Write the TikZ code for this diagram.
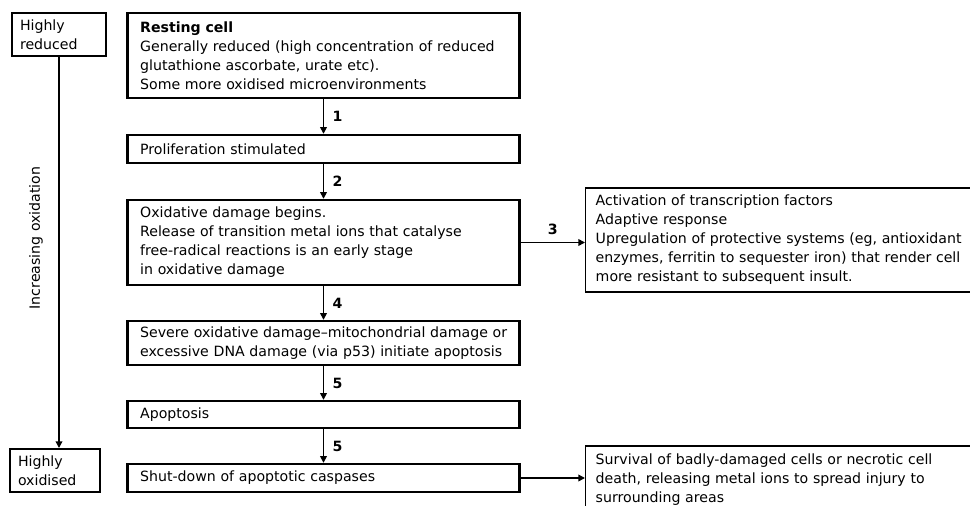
\documentclass[tikz,border=0pt]{standalone}
\usepackage{fontspec}
\setmainfont{DejaVu Sans}
\usetikzlibrary{arrows.meta}

\begin{document}
\begin{tikzpicture}[x=0.75pt, y=-0.75pt,
    every node/.style={font=\fontsize{10.6}{14.25}\selectfont},
    box/.style={draw, line width=1.8pt, align=left, text width=275pt,
        inner xsep=9.5pt, inner ysep=0pt},
    sidebox/.style={draw, line width=1.1pt, align=left, text width=290pt,
        inner xsep=7.5pt, inner ysep=0pt, anchor=west},
    statebox/.style={draw, line width=1.5pt, align=left, inner xsep=6pt,
        inner ysep=0pt, minimum height=32.25pt},
    flow/.style={line width=1.1pt, -{Triangle[length=5pt, width=5pt]}}]
    \useasboundingbox (0, 0) rectangle (970, 506);

    % main column
    \node[box, minimum height=63.75pt] (rest) at (323.5, 55.5)
        {\textbf{Resting cell}\\Generally reduced (high concentration of reduced\\glutathione ascorbate, urate etc).\\Some more oxidised microenvironments};
    \node[box, minimum height=21pt] (prolif) at (323.5, 149) {Proliferation stimulated};
    \node[box, minimum height=63.75pt] (oxid) at (323.5, 242.5)
        {Oxidative damage begins.\\Release of transition metal ions that catalyse\\free-radical reactions is an early stage\\in oxidative damage};
    \node[box, minimum height=33pt] (severe) at (323.5, 343)
        {\mbox{Severe oxidative damage--mitochondrial damage or}\\\mbox{excessive DNA damage (via p53) initiate apoptosis}};
    \node[box, minimum height=20.25pt] (apop) at (323.5, 414.5) {Apoptosis};
    \node[box, minimum height=21pt] (shut) at (323.5, 478) {Shut-down of apoptotic caspases};

    % side boxes
    \node[sidebox, minimum height=78pt] (adapt) at (585, 240)
        {Activation of transcription factors\\Adaptive response\\Upregulation of protective systems (eg, antioxidant\\enzymes, ferritin to sequester iron) that render cell\\more resistant to subsequent insult.};
    \node[sidebox, minimum height=51pt] (surv) at (585, 480)
        {Survival of badly-damaged cells or necrotic cell\\death, releasing metal ions to spread injury to\\surrounding areas};

    % oxidation scale
    \node[statebox, text width=58.5pt] (hred) at (59, 34.5) {Highly\\reduced};
    \node[statebox, text width=55.5pt] (hox) at (55, 470.5) {Highly\\oxidised};
    \draw[flow] (hred.south) -- (hred.south |- hox.north);
    \node[rotate=90] (incr) at (36, 238) {Increasing oxidation};

    % steps
    \draw[flow] (rest) -- node[right, xshift=3pt] {\textbf{1}} (prolif);
    \draw[flow] (prolif) -- node[right, xshift=3pt] {\textbf{2}} (oxid);
    \draw[flow] (oxid) -- node[right, xshift=3pt] {\textbf{4}} (severe);
    \draw[flow] (severe) -- node[right, xshift=3pt] {\textbf{5}} (apop);
    \draw[flow] (apop) -- node[right, xshift=3pt] {\textbf{5}} (shut);
    \draw[flow] (oxid.east) -- node[above, yshift=2pt] {\textbf{3}} (oxid.east -| adapt.west);
    \draw[flow] (shut.east) -- (shut.east -| surv.west);
\end{tikzpicture}
\end{document}
